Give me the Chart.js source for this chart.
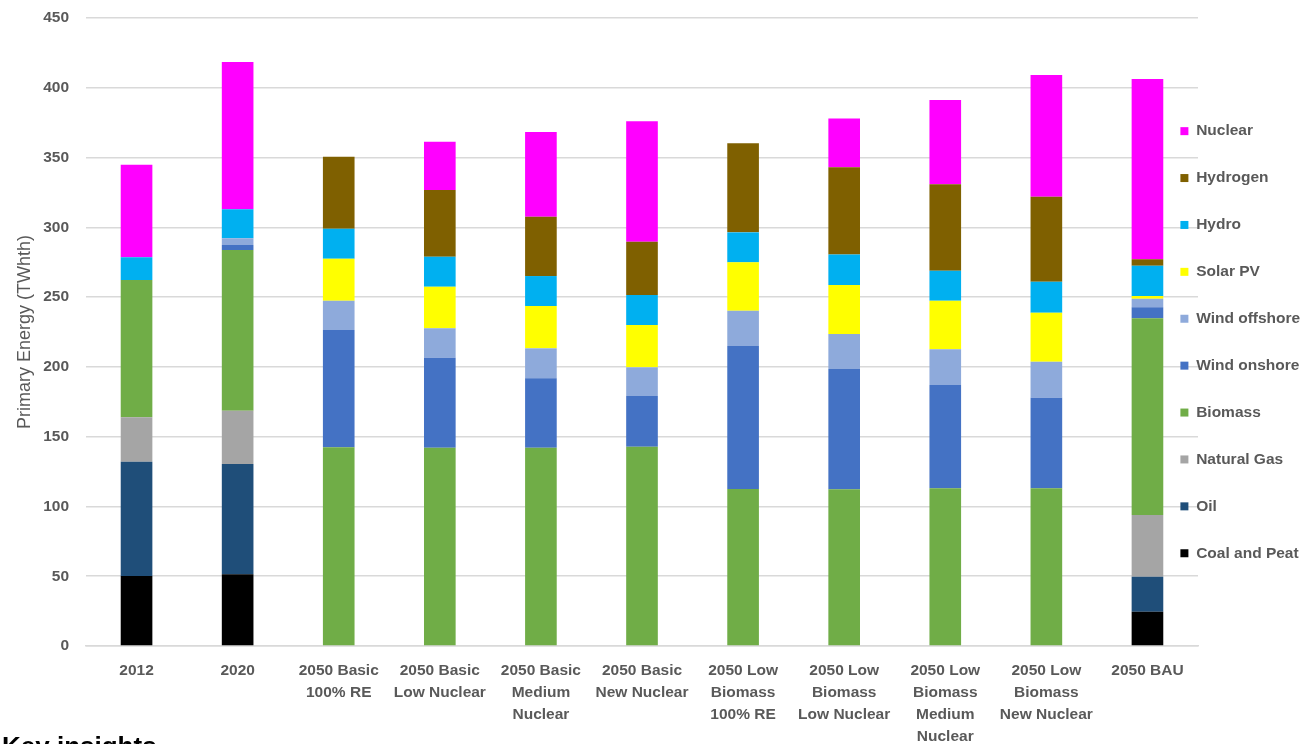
<!DOCTYPE html>
<html>
<head>
<meta charset="utf-8">
<title>Primary Energy</title>
<script src="https://cdn.jsdelivr.net/npm/chart.js@4/dist/chart.umd.min.js"></script>
<style>
    html, body { margin: 0; padding: 0; background: #fff; overflow: hidden; }
    .chart-box { position: relative; width: 1301px; height: 744px; }
    .key-insights {
        position: absolute; left: 2px; top: 731px;
        font: bold 26px "Liberation Sans", Arial, sans-serif; color: #000;
        white-space: nowrap;
    }
</style>
</head>
<body>
<div class="chart-box">
    <canvas id="energyChart"></canvas>
    <div class="key-insights">Key insights</div>
</div>
<script>
// 分类标签（多行）
const categories = [
    ['2012'],
    ['2020'],
    ['2050 Basic', '100% RE'],
    ['2050 Basic', 'Low Nuclear'],
    ['2050 Basic', 'Medium', 'Nuclear'],
    ['2050 Basic', 'New Nuclear'],
    ['2050 Low', 'Biomass', '100% RE'],
    ['2050 Low', 'Biomass', 'Low Nuclear'],
    ['2050 Low', 'Biomass', 'Medium', 'Nuclear'],
    ['2050 Low', 'Biomass', 'New Nuclear'],
    ['2050 BAU']
];

// 各能源数据 (TWhth)，从下到上堆叠
const coalAndPeat  = [50.2, 51.4, 0, 0, 0, 0, 0, 0, 0, 0, 24.6];
const oil          = [81.9, 79.0, 0, 0, 0, 0, 0, 0, 0, 0, 25.1];
const naturalGas   = [31.8, 38.2, 0, 0, 0, 0, 0, 0, 0, 0, 44.2];
const biomass      = [98.3, 115.1, 142.4, 142.1, 142.1, 142.8, 112.5, 112.3, 113.0, 113.0, 140.9];
const windOnshore  = [0, 3.6, 84.0, 64.5, 49.7, 36.3, 102.4, 86.2, 74.0, 64.9, 7.9];
const windOffshore = [0, 4.8, 21.0, 21.0, 21.5, 20.6, 25.4, 25.1, 25.6, 25.8, 6.2];
const solarPV      = [0, 0, 30.1, 29.9, 30.3, 30.3, 34.6, 35.1, 34.8, 35.1, 1.9];
const hydro        = [16.3, 20.8, 21.5, 21.5, 21.5, 21.5, 21.5, 21.9, 21.5, 22.2, 21.7];
const hydrogen     = [0, 0, 51.6, 47.7, 42.5, 38.2, 63.8, 62.4, 61.9, 61.0, 4.6];
const nuclear      = [66.4, 105.6, 0, 34.7, 60.7, 86.3, 0, 35.0, 60.4, 87.1, 129.2];

// y轴刻度
const yTicks = [0, 50, 100, 150, 200, 250, 300, 350, 400, 450];

const textGrey = '#595959';
const gridGrey = '#d9d9d9';
const fontFamily = '"Liberation Sans", Arial, sans-serif';

// 把图例挪到绘图区右侧上方（与原图一样压在网格线上）
const legendPlacer = {
    id: 'legendPlacer',
    afterLayout(chart) {
        const area = chart.chartArea;
        chart.legend.left = area.right - 49;
        chart.legend.top = area.top + 74;
    }
};

function makeDataset(label, data, color) {
    return {
        label: label,
        data: data,
        backgroundColor: color,
        borderWidth: 0,
        barPercentage: 0.313,
        categoryPercentage: 1.0
    };
}

function initChart() {
    const ctx = document.getElementById('energyChart').getContext('2d');
    new Chart(ctx, {
        type: 'bar',
        data: {
            labels: categories,
            datasets: [
                makeDataset('Coal and Peat', coalAndPeat, '#000000'),
                makeDataset('Oil', oil, '#1f4e79'),
                makeDataset('Natural Gas', naturalGas, '#a5a5a5'),
                makeDataset('Biomass', biomass, '#70ad47'),
                makeDataset('Wind onshore', windOnshore, '#4472c4'),
                makeDataset('Wind offshore', windOffshore, '#8eaadb'),
                makeDataset('Solar PV', solarPV, '#ffff00'),
                makeDataset('Hydro', hydro, '#00b0f0'),
                makeDataset('Hydrogen', hydrogen, '#7f6000'),
                makeDataset('Nuclear', nuclear, '#ff00ff')
            ]
        },
        options: {
            responsive: true,
            maintainAspectRatio: false,
            animation: false,
            layout: { padding: { top: 18, left: 0, right: 0, bottom: 0 } },
            plugins: {
                tooltip: { enabled: false },
                legend: {
                    position: 'right',
                    align: 'start',
                    reverse: true,
                    maxWidth: 103,
                    labels: {
                        boxWidth: 8,
                        boxHeight: 8,
                        padding: 31.4,
                        color: textGrey,
                        font: { family: fontFamily, size: 15.5, weight: 'bold' }
                    }
                }
            },
            scales: {
                x: {
                    stacked: true,
                    grid: { display: false },
                    border: { display: true, color: gridGrey, width: 1.5 },
                    ticks: {
                        color: textGrey,
                        padding: 6,
                        maxRotation: 0,
                        autoSkip: false,
                        font: { family: fontFamily, size: 15.5, weight: 'bold', lineHeight: 1.42 }
                    },
                    afterFit(scale) { scale.height = 98; }
                },
                y: {
                    stacked: true,
                    min: yTicks[0],
                    max: yTicks[yTicks.length - 1],
                    grid: { color: gridGrey, lineWidth: 1.5, drawTicks: false },
                    border: { display: false },
                    afterBuildTicks(scale) {
                        scale.ticks = yTicks.map(v => ({ value: v }));
                    },
                    ticks: {
                        color: textGrey,
                        padding: 17,
                        font: { family: fontFamily, size: 15.5, weight: 'bold' }
                    },
                    title: {
                        display: true,
                        text: 'Primary Energy (TWhth)',
                        color: textGrey,
                        padding: { top: 14, bottom: 0 },
                        font: { family: fontFamily, size: 18, weight: 'normal' }
                    },
                    afterFit(scale) {
                        scale.width = 86;
                        scale.paddingTop = 0;
                        scale.paddingBottom = 0;
                    }
                }
            }
        },
        plugins: [legendPlacer]
    });
}

document.addEventListener('DOMContentLoaded', initChart);
</script>
</body>
</html>
